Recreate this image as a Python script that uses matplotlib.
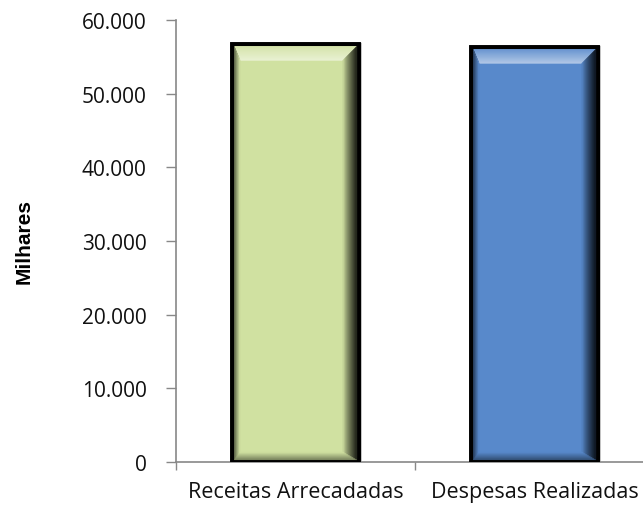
import matplotlib
matplotlib.use("Agg")
import matplotlib.pyplot as plt
from matplotlib.patches import Polygon
import numpy as np

categories = ["Receitas Arrecadadas", "Despesas Realizadas"]
values = [56700, 56300]
bar_colors = ["#D0E1A1", "#5889CB"]
yticks = [0, 10000, 20000, 30000, 40000, 50000, 60000]
ytick_labels = ["0", "10.000", "20.000", "30.000", "40.000", "50.000", "60.000"]

W, H = 643, 506
AX_W, AX_H = 478, 442
fig = plt.figure(figsize=(W / 100, H / 100), dpi=100)
ax = fig.add_axes([176 / W, 43 / H, AX_W / W, AX_H / H])

x = np.arange(len(categories))
bars = ax.bar(x, values, width=0.53, color=bar_colors, edgecolor="black",
              linewidth=2.5, zorder=2)


def shade(c, f):
    c = np.array(matplotlib.colors.to_rgb(c))
    if f > 0:
        return tuple(np.clip(c + (1 - c) * f, 0, 1))
    return tuple(np.clip(c * (1 + f), 0, 1))


px_x = 2.0 / AX_W      # data units per pixel, x
px_y = 60000 / AX_H    # data units per pixel, y

# bevel effect on each bar
for b, col in zip(bars, bar_colors):
    x0, y0 = b.get_x(), b.get_y()
    w, h = b.get_width(), b.get_height()
    x1, y1 = x0 + w, y0 + h
    # inner frame starts just inside the black outline
    x0, y0, x1, y1 = x0 + 2 * px_x, y0 + 2 * px_y, x1 - 2 * px_x, y1 - 2 * px_y
    dl, dr = 6 * px_x, 14 * px_x
    dt, db = 14 * px_y, 8 * px_y
    n = 14
    for i in range(n):
        t0, t1 = i / n, (i + 1) / n
        ax0, ay0, ax1, ay1 = x0 + dl * t0, y0 + db * t0, x1 - dr * t0, y1 - dt * t0
        bx0, by0, bx1, by1 = x0 + dl * t1, y0 + db * t1, x1 - dr * t1, y1 - dt * t1
        mid = (t0 + t1) / 2
        kw = dict(closed=True, lw=0.4, zorder=3)
        # top: gets lighter towards the inside
        c = shade(col, 0.1 + 0.45 * mid)
        ax.add_patch(Polygon([(ax0, ay1), (ax1, ay1), (bx1, by1), (bx0, by1)], fc=c, ec=c, **kw))
        # right: dark outside, fading in
        c = shade(col, -0.9 * (1 - mid) ** 0.8)
        ax.add_patch(Polygon([(ax1, ay1), (ax1, ay0), (bx1, by0), (bx1, by1)], fc=c, ec=c, **kw))
        # left
        c = shade(col, -0.6 * (1 - mid))
        ax.add_patch(Polygon([(ax0, ay1), (ax0, ay0), (bx0, by0), (bx0, by1)], fc=c, ec=c, **kw))
        # bottom
        c = shade(col, -0.45 * (1 - mid))
        ax.add_patch(Polygon([(ax0, ay0), (ax1, ay0), (bx1, by0), (bx0, by0)], fc=c, ec=c, **kw))
    ax.add_patch(plt.Rectangle((b.get_x(), b.get_y()), w, h, fill=False,
                               edgecolor="black", lw=2.8, zorder=4))

ax.set_xlim(-0.5, 1.5)
ax.set_ylim(0, 60000)
ax.set_yticks(yticks)
ax.set_yticklabels(ytick_labels, fontsize=15, family="Open Sans", color="#111111")
ax.set_xticks(x)
ax.set_xticklabels(categories, fontsize=15.5, family="Open Sans", color="#111111")
ax.set_xticks([-0.5, 0.5, 1.5], minor=True)
ax.tick_params(axis="x", which="major", length=0, pad=14)
ax.tick_params(axis="x", which="minor", length=6, color="#888888", width=1)
ax.tick_params(axis="y", length=7, color="#888888", width=1, pad=14)

for s in ["top", "right"]:
    ax.spines[s].set_visible(False)
for s in ["left", "bottom"]:
    ax.spines[s].set_color("#888888")
    ax.spines[s].set_linewidth(1.2)

ax.set_ylabel("Milhares", fontsize=15, fontweight="bold", family="Liberation Sans")
ax.yaxis.set_label_coords(-(176 - 34) / AX_W, 0.5)

fig.savefig("out.png", dpi=100)
